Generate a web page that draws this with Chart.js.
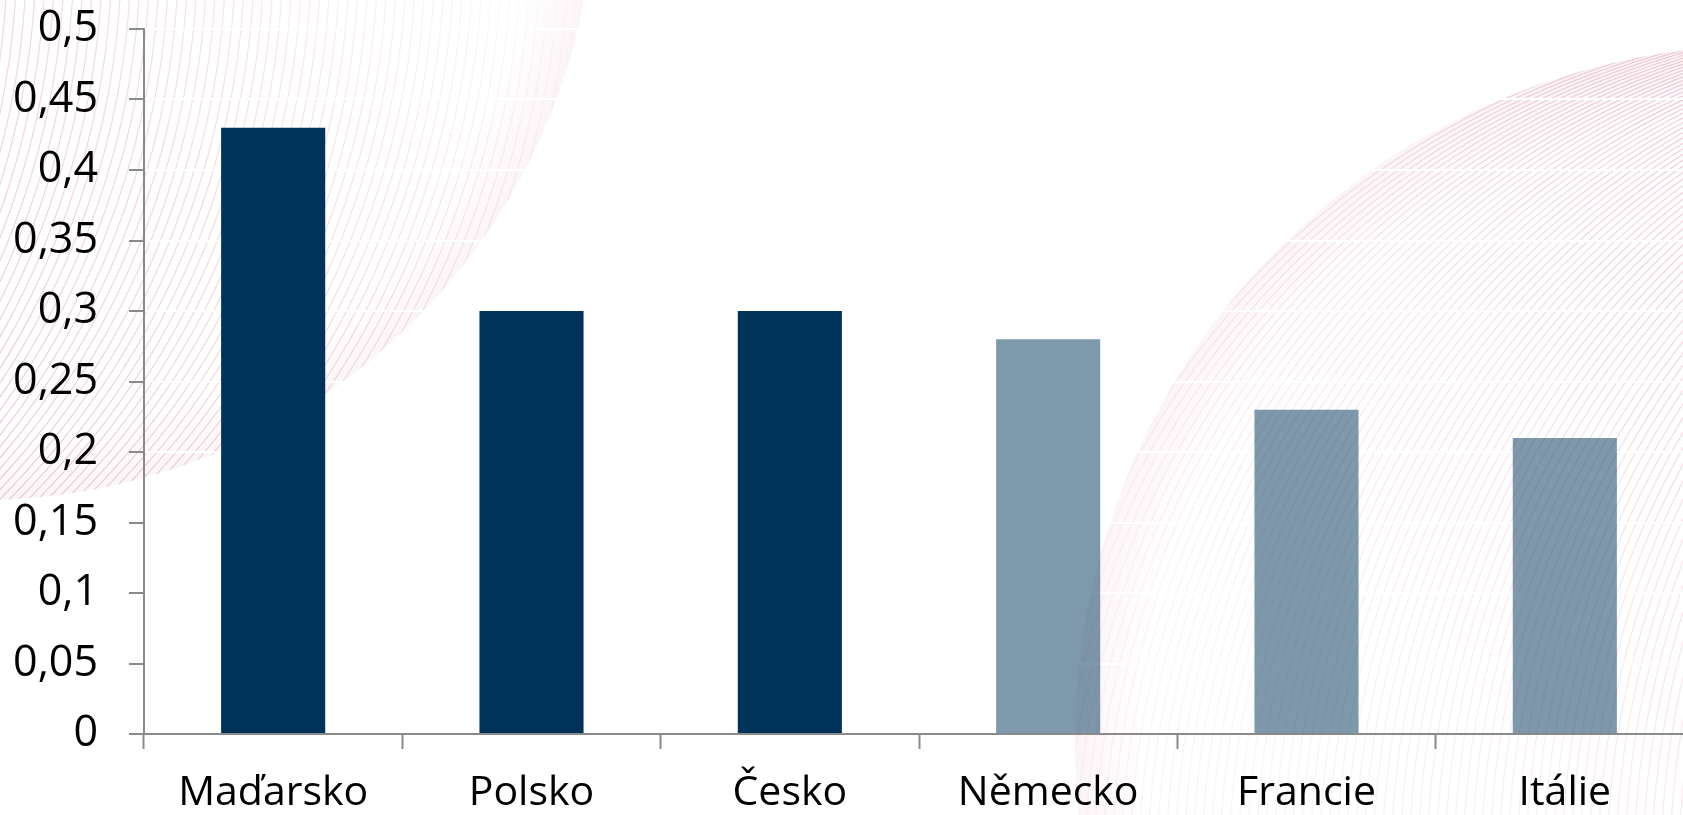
<!DOCTYPE html>
<html>
<head>
<meta charset="utf-8">
<script src="https://cdn.jsdelivr.net/npm/chart.js@4.4.1/dist/chart.umd.min.js"></script>
<style>
  html, body { margin: 0; padding: 0; background: #fff; overflow: hidden; }
  #wrap { width: 1700px; height: 815px; }
</style>
</head>
<body>
<div id="wrap"><canvas id="barChart" width="1700" height="815"></canvas></div>
<script>
const countries = ['Maďarsko', 'Polsko', 'Česko', 'Německo', 'Francie', 'Itálie'];
const values = [0.43, 0.30, 0.30, 0.28, 0.23, 0.21];
const barColors = ['#00335a', '#00335a', '#00335a', 'rgba(0,51,90,0.5)', 'rgba(0,51,90,0.5)', 'rgba(0,51,90,0.5)'];
const yTickValues = [0, 0.05, 0.1, 0.15, 0.2, 0.25, 0.3, 0.35, 0.4, 0.45, 0.5];

// slide background: two discs filled with thin pink arcs
function drawArcDisc(ctx, o) {
  ctx.save();
  ctx.beginPath();
  ctx.arc(o.clipX, o.clipY, o.clipR, 0, Math.PI * 2);
  ctx.clip();

  const halo = ctx.createRadialGradient(o.clipX, o.clipY, o.clipR * 0.9, o.clipX, o.clipY, o.clipR);
  halo.addColorStop(0, 'rgba(230,170,185,0)');
  halo.addColorStop(1, 'rgba(230,170,185,0.12)');
  ctx.fillStyle = halo;
  ctx.fillRect(o.clipX - o.clipR, o.clipY - o.clipR, o.clipR * 2, o.clipR * 2);

  ctx.strokeStyle = o.gradient(ctx);
  ctx.lineWidth = 1.2;
  for (let cx = o.cxFrom; cx <= o.cxTo; cx += o.step) {
    ctx.beginPath();
    ctx.arc(cx, o.cy, o.r, o.a0, o.a1);
    ctx.stroke();
  }
  ctx.restore();
}

const bgPattern = {
  id: 'bgPattern',
  beforeDraw(chart) {
    const ctx = chart.ctx;
    drawArcDisc(ctx, {
      clipX: -20, clipY: -115, clipR: 615,
      cy: -50, r: 780, a0: 0, a1: Math.PI / 2,
      cxFrom: -820, cxTo: 60, step: 9.5,
      gradient: (c) => {
        const g = c.createLinearGradient(560, 20, 60, 470);
        g.addColorStop(0, 'rgba(215,140,160,0.04)');
        g.addColorStop(0.5, 'rgba(215,140,160,0.3)');
        g.addColorStop(1, 'rgba(215,140,160,0.45)');
        return g;
      },
    });
    drawArcDisc(ctx, {
      clipX: 1770, clipY: 740, clipR: 695,
      cy: 870, r: 850, a0: Math.PI / 2, a1: Math.PI * 1.5,
      cxFrom: 1800, cxTo: 2700, step: 9,
      gradient: (c) => {
        const g = c.createLinearGradient(1100, 500, 1683, 60);
        g.addColorStop(0, 'rgba(215,140,160,0.1)');
        g.addColorStop(0.5, 'rgba(215,140,160,0.22)');
        g.addColorStop(1, 'rgba(215,140,160,0.45)');
        return g;
      },
    });
  },
};

new Chart(document.getElementById('barChart'), {
  type: 'bar',
  data: {
    labels: countries,
    datasets: [{
      data: values,
      backgroundColor: barColors,
      borderWidth: 0,
      barPercentage: 0.403,
      categoryPercentage: 1,
    }],
  },
  options: {
    responsive: false,
    animation: false,
    devicePixelRatio: 1,
    layout: { padding: { top: 29, right: 6, left: 0, bottom: 0 } },
    plugins: {
      legend: { display: false },
      tooltip: { enabled: false },
    },
    scales: {
      x: {
        grid: {
          offset: true,
          drawOnChartArea: false,
          drawTicks: true,
          tickLength: 15,
          tickColor: '#8a8a8a',
          tickWidth: 2,
        },
        border: { color: '#8a8a8a', width: 2, z: 1 },
        ticks: {
          color: '#000',
          font: { family: 'Open Sans', size: 41 },
          padding: 20,
          maxRotation: 0,
          autoSkip: false,
        },
        afterFit(axis) {
          axis.height = 81;
          axis.paddingLeft = 0;
          axis.paddingRight = 0;
        },
      },
      y: {
        min: 0,
        max: 0.5,
        afterBuildTicks(axis) {
          axis.ticks = yTickValues.map(v => ({ value: v }));
        },
        grid: {
          color: '#ffffff',
          lineWidth: 2,
          tickLength: 15,
          tickColor: '#8a8a8a',
          tickWidth: 2,
        },
        border: { color: '#8a8a8a', width: 2, z: 1 },
        ticks: {
          color: '#000',
          font: { family: 'Open Sans', size: 43 },
          padding: 31,
          callback: (v) => String(Math.round(v * 100) / 100).replace('.', ','),
        },
        afterFit(axis) {
          axis.width = 144;
          axis.paddingTop = 0;
          axis.paddingBottom = 0;
        },
      },
    },
  },
  plugins: [bgPattern],
});
</script>
</body>
</html>
